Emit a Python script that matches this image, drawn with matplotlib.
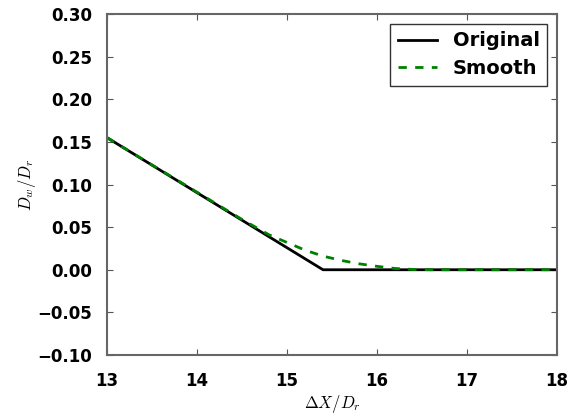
import matplotlib
matplotlib.use("Agg")
import matplotlib.pyplot as plt

# data
x_orig = [13.0, 15.4, 18.0]
y_orig = [0.155, 0.0, 0.0]

x_smooth = [13.0, 13.5, 14.0, 14.5, 14.8, 15.0, 15.2, 15.4, 15.6, 15.8, 16.0, 16.2, 16.4, 16.6, 17.0, 18.0]
y_smooth = [0.155, 0.123, 0.091, 0.059, 0.041, 0.032, 0.023, 0.016, 0.011, 0.007, 0.004, 0.0015, 0.0004, 0.0, 0.0, 0.0]

xticks = [13, 14, 15, 16, 17, 18]
yticks = [-0.10, -0.05, 0.00, 0.05, 0.10, 0.15, 0.20, 0.25, 0.30]

plt.rcParams["mathtext.fontset"] = "cm"

fig = plt.figure(figsize=(5.84, 4.16), dpi=100)
ax = fig.add_axes([107 / 584, 61 / 416, 450 / 584, 341 / 416])

ax.plot(x_orig, y_orig, color="black", lw=2, label="Original")
ax.plot(x_smooth, y_smooth, color="green", lw=2, ls="--", dashes=(3, 3), label="Smooth")

ax.set_xlim(13, 18)
ax.set_ylim(-0.10, 0.30)
ax.set_xticks(xticks)
ax.set_yticks(yticks)
ax.set_xticklabels([str(t) for t in xticks], fontweight="bold", fontsize=12)
ax.set_yticklabels([f"{t:.2f}".replace("-", "\u2212") for t in yticks], fontweight="bold", fontsize=12)
ax.tick_params(direction="in", top=True, right=True, length=4, color="#555555")
ax.tick_params(axis="x", pad=12)
ax.tick_params(axis="y", pad=10.5)
for s in ax.spines.values():
    s.set_color("#666666")
    s.set_linewidth(1.5)

ax.set_xlabel(r"$\Delta X/D_r$", fontsize=12)
ax.set_ylabel(r"$D_w/D_r$", fontsize=12)
ax.xaxis.set_label_coords(0.5, -0.111)
ax.yaxis.set_label_coords(-0.153, 0.5)

leg = ax.legend(loc="upper right", fancybox=False, prop={"weight": "bold", "size": 14},
                handlelength=2.0, borderpad=0.4, labelspacing=0.45)
leg.get_frame().set_edgecolor("black")
leg.get_frame().set_linewidth(1.0)

fig.savefig("out.png", dpi=100)
